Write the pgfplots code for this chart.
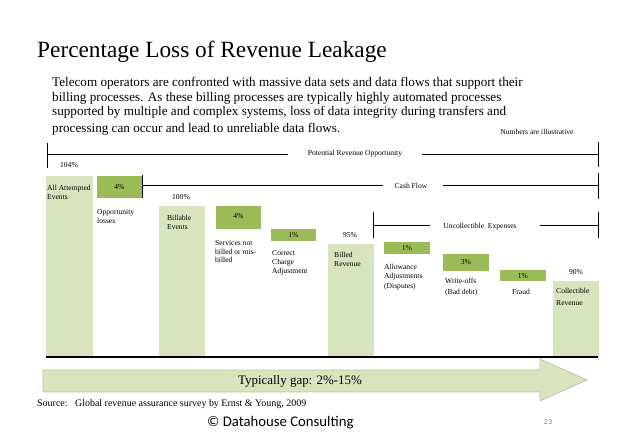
\documentclass[border=0pt]{standalone}
\usepackage{pgfplots}
\pgfplotsset{compat=1.18}
\usepackage{fontspec}
\setmainfont{Liberation Serif}
\newfontfamily\calibri{Carlito}
\definecolor{lightg}{HTML}{D7E4BD}
\definecolor{darkg}{HTML}{9BBB59}
\definecolor{arrowedge}{HTML}{B9C99F}
\newcommand{\sm}{\fontsize{7.6}{8}\selectfont}
\newcommand{\lt}[3]{\node[anchor=base west,inner sep=0,font=\sm] at (#1,#2) {#3};}
\newcommand{\ct}[3]{\node[anchor=base,inner sep=0,font=\sm] at (#1,#2) {#3};}
\begin{document}
\begin{tikzpicture}
\useasboundingbox (0,0) rectangle (638bp,442bp);
\begin{axis}[at={(0,0)},anchor=south west,scale only axis,width=638bp,height=442bp,
  hide axis,xmin=0,xmax=638,ymin=68.742,ymax=127.285,clip=false]
% totals (light green), value in percent, base at 80
\addplot[fill=lightg,draw=none] coordinates {(46,80) (93,80) (93,104) (46,104)} --cycle;
\addplot[fill=lightg,draw=none] coordinates {(159,80) (205,80) (205,100) (159,100)} --cycle;
\addplot[fill=lightg,draw=none] coordinates {(328,80) (374,80) (374,95) (328,95)} --cycle;
\addplot[fill=lightg,draw=none] coordinates {(553,80) (599,80) (599,90) (553,90)} --cycle;
% losses (dark green floating boxes)
\addplot[fill=darkg,draw=none] coordinates {(97,101) (142,101) (142,104) (97,104)} --cycle;
\addplot[fill=darkg,draw=none] coordinates {(216,97) (261,97) (261,100) (216,100)} --cycle;
\addplot[fill=darkg,draw=none] coordinates {(271,95.4) (316,95.4) (316,97) (271,97)} --cycle;
\addplot[fill=darkg,draw=none] coordinates {(384,93.6) (430,93.6) (430,95.2) (384,95.2)} --cycle;
\addplot[fill=darkg,draw=none] coordinates {(443,91.4) (489,91.4) (489,93.6) (443,93.6)} --cycle;
\addplot[fill=darkg,draw=none] coordinates {(500,90) (546,90) (546,91.5) (500,91.5)} --cycle;
% baseline
\addplot[black,line width=1.1bp] coordinates {(46,80) (598,80)};
\end{axis}
\begin{scope}[x=1bp,y=-1bp,shift={(0,442bp)}]
% title & text
\node[anchor=base west,inner sep=0,font=\fontsize{23.4}{26}\selectfont] at (37,58) {Percentage Loss of Revenue Leakage};
\begin{scope}[every node/.style={anchor=base west,inner sep=0,font=\fontsize{13.2}{14}\selectfont}]
\node at (52,87) {Telecom operators are confronted with massive data sets and data flows that support their};
\node at (52,102) {billing processes. As these billing processes are typically highly automated processes};
\node at (52,116) {supported by multiple and complex systems, loss of data integrity during transfers and};
\node at (52,133) {processing can occur and lead to unreliable data flows.};
\end{scope}
\ct{537}{134.5}{Numbers are illustrative}
% bracket lines
\draw[line width=1bp] (47,143)--(47,168) (47,155)--(288,155) (422,155)--(598,155) (598,142)--(598,167);
\ct{355}{155.5}{Potential Revenue Opportunity}
\draw[line width=1bp] (142,175)--(142,198) (142,186)--(383,186) (443,186)--(598,186) (598,173)--(598,199);
\ct{411}{188.5}{Cash Flow}
\draw[line width=1bp] (373,212)--(373,238) (373,226)--(430,226) (540,226)--(598,226) (598,212)--(598,238);
\ct{480}{228.5}{Uncollectible\ \ Expenses}
% labels
\ct{69}{168}{104\%}
\lt{47}{190.5}{All Attempted}
\lt{47}{199.5}{Events}
\ct{119.5}{189.5}{4\%}
\lt{97}{214.5}{Opportunity}
\lt{97}{223.5}{losses}
\ct{181}{199.5}{100\%}
\lt{167}{220.5}{Billable}
\lt{167}{229.5}{Events}
\ct{238.5}{218.5}{4\%}
\lt{215}{245.5}{Services not}
\lt{215}{254.5}{billed or mis-}
\lt{215}{263}{billed}
\ct{293.5}{237.5}{1\%}
\lt{272}{255.5}{Correct}
\lt{272}{264.5}{Charge}
\lt{272}{273.5}{Adjustment}
\ct{350}{237.5}{95\%}
\lt{334}{257.5}{Billed}
\lt{334}{266.5}{Revenue}
\ct{407}{250.5}{1\%}
\lt{384}{269.5}{Allowance}
\lt{384}{279}{Adjustments}
\lt{384}{288.5}{(Disputes)}
\ct{466}{264.5}{3\%}
\lt{445}{283.5}{Write-offs}
\lt{445}{294.5}{(Bad debt)}
\ct{523}{278.5}{1\%}
\ct{521}{294.5}{Fraud}
\ct{576}{274.5}{90\%}
\lt{556}{293.5}{Collectible}
\lt{556}{305.5}{Revenue}
% arrow
\filldraw[fill=lightg,draw=arrowedge,line width=0.8bp] (43,370)--(540,370)--(540,359)--(587,380)--(540,401)--(540,392)--(43,392)--cycle;
\node[anchor=base,inner sep=0,font=\fontsize{13}{15}\selectfont] at (300,385) {Typically gap: 2\%-15\%};
\node[anchor=base west,inner sep=0,font=\fontsize{10}{11}\selectfont] at (37,406.5) {Source:\ \ \ Global revenue assurance survey by Ernst \& Young, 2009};
\node[anchor=base west,inner sep=0,font=\calibri\fontsize{14.8}{16}\selectfont] at (207,426.5) {© Datahouse Consulting};
\node[anchor=base,inner sep=0,font=\calibri\fontsize{8}{9}\selectfont,text=gray] at (548,425) {23};
\end{scope}
\end{tikzpicture}
\end{document}
